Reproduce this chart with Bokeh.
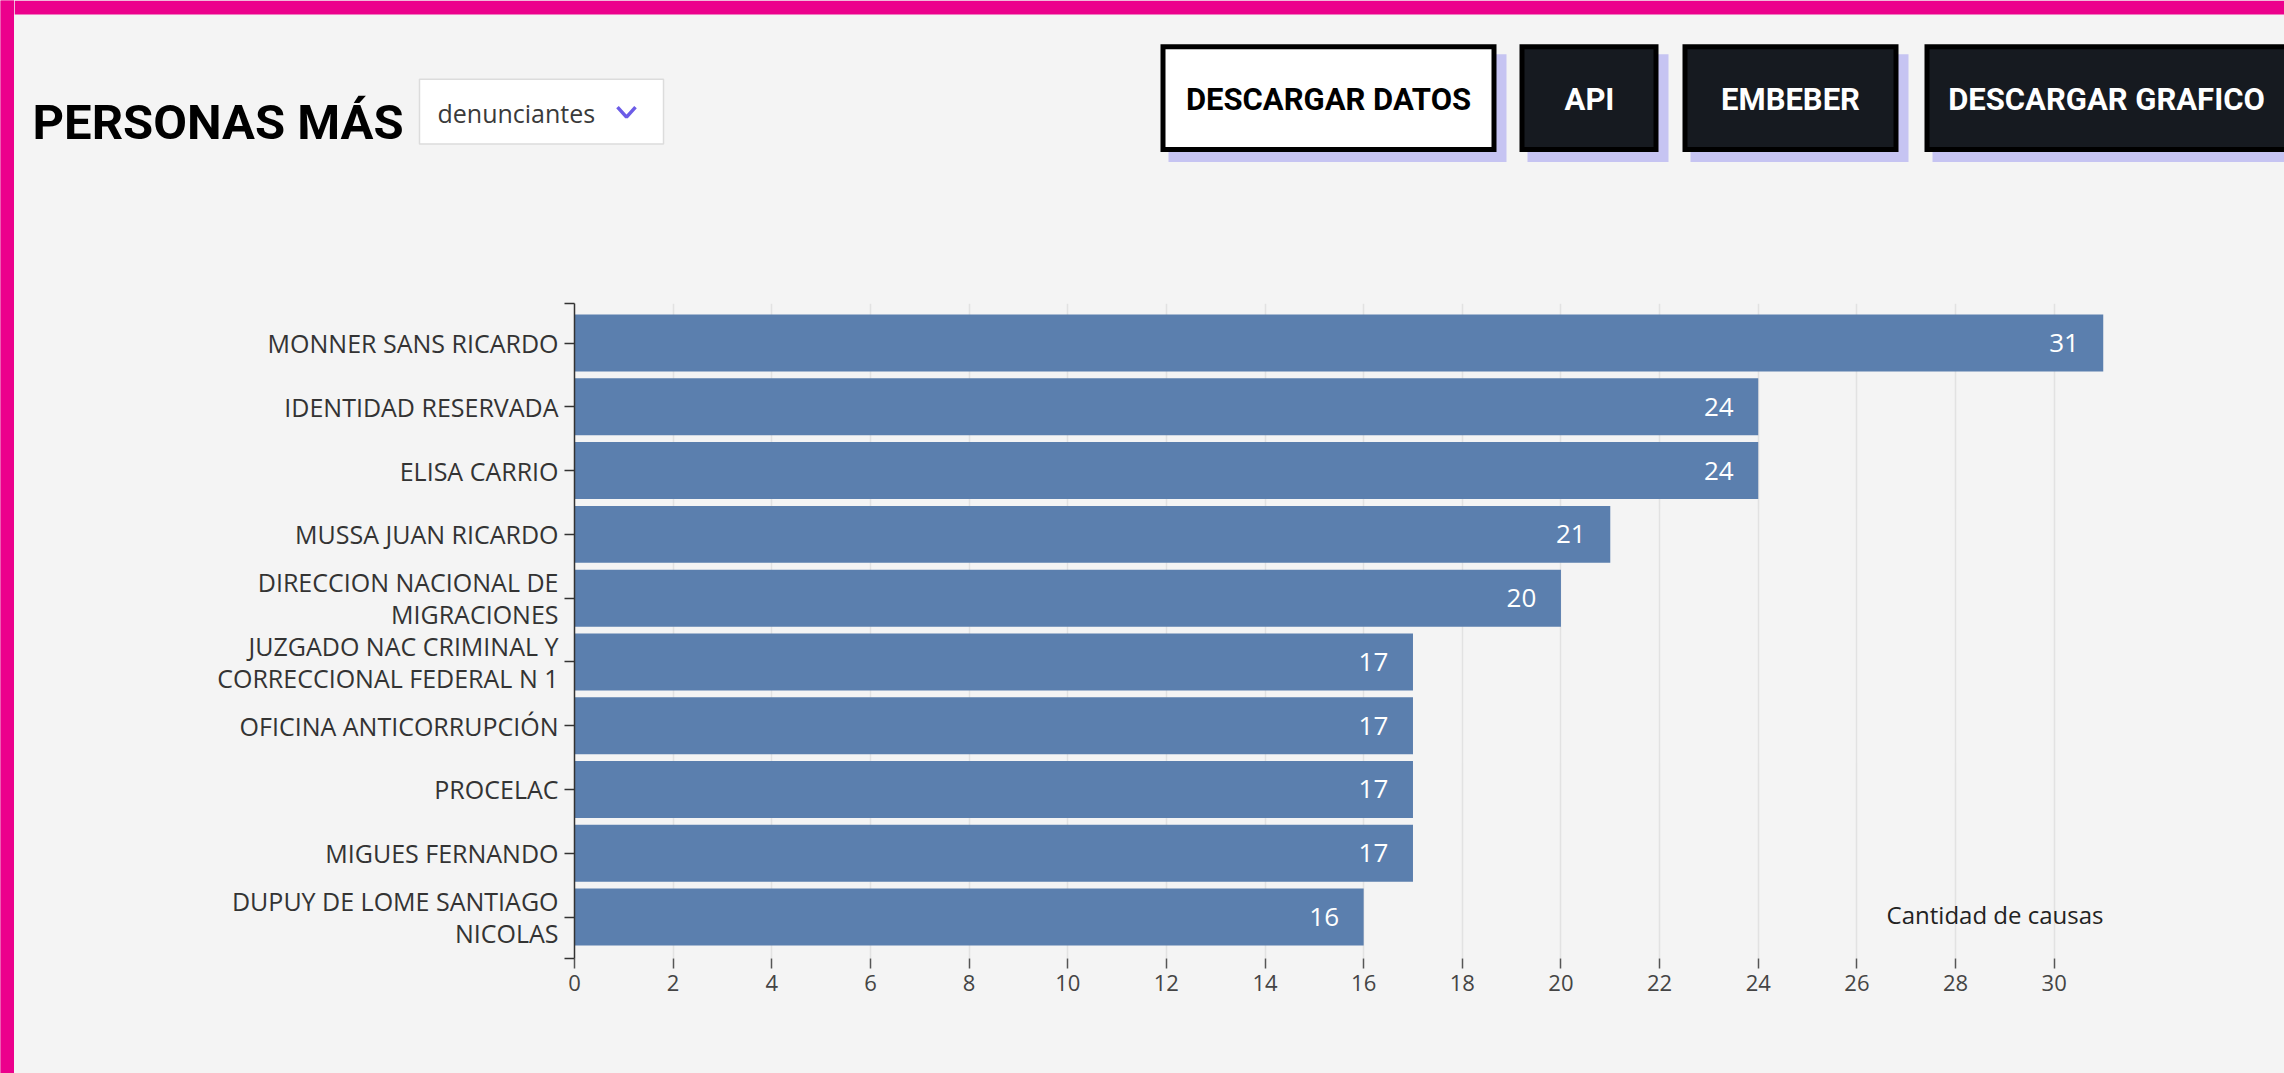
from bokeh.plotting import figure
from bokeh.models import Range1d, FixedTicker, ColumnDataSource, Label
from bokeh.layouts import row, column
from bokeh.embed import file_html
from bokeh.resources import INLINE
from bokeh.core.properties import value

# ---------------- data ----------------
names = [
    "MONNER SANS RICARDO",
    "IDENTIDAD RESERVADA",
    "ELISA CARRIO",
    "MUSSA JUAN RICARDO",
    "DIRECCION NACIONAL DE\nMIGRACIONES",
    "JUZGADO NAC CRIMINAL Y\nCORRECCIONAL FEDERAL N 1",
    "OFICINA ANTICORRUPCIÓN",
    "PROCELAC",
    "MIGUES FERNANDO",
    "DUPUY DE LOME SANTIAGO\nNICOLAS",
]
causas = [31, 24, 24, 21, 20, 17, 17, 17, 17, 16]
x_ticks = [0, 2, 4, 6, 8, 10, 12, 14, 16, 18, 20, 22, 24, 26, 28, 30]
title_text = "PERSONAS MÁS"
dropdown_text = "denunciantes"
button_labels = ["DESCARGAR DATOS", "API", "EMBEBER", "DESCARGAR GRAFICO"]
x_axis_title = "Cantidad de causas"

# ---------------- styles ----------------
PINK = "#ec008c"
BG = "#f4f4f4"
BAR = "#5b7fae"
DARK_BTN = "#161a20"
SHADOW = "#c6c4f2"
COND = value("Roboto")
SANS = value("Open Sans")

W_TOTAL = 2284
H_TOTAL = 1073
PINK_W = 14
HEAD_H = 268
MAIN_W = W_TOTAL - PINK_W
CHART_H = H_TOTAL - HEAD_H

# ---------------- left pink strip ----------------
strip = figure(width=PINK_W, height=H_TOTAL, output_backend="svg", toolbar_location=None,
               min_border=0, x_range=Range1d(0, 1), y_range=Range1d(0, 1))
strip.axis.visible = False
strip.grid.visible = False
strip.outline_line_color = None
strip.background_fill_color = PINK
strip.border_fill_color = PINK
strip.frame_align = False
strip.quad(left=[0], right=[1], bottom=[0], top=[1], fill_color=PINK, line_color=None)

# ---------------- header (page pixel coordinates, y downwards) ----------------
X0 = PINK_W
head = figure(width=MAIN_W, height=HEAD_H, output_backend="svg", toolbar_location=None,
              min_border=0, x_range=Range1d(X0, X0 + MAIN_W), y_range=Range1d(HEAD_H + 1, 0))
head.axis.visible = False
head.grid.visible = False
head.outline_line_color = None
head.background_fill_color = BG
head.border_fill_color = BG
head.frame_align = False

# pink top border
head.quad(left=[X0], right=[X0 + MAIN_W], top=[0], bottom=[14], fill_color=PINK, line_color=None)

# title
head.text(x=[32], y=[122], text=[title_text], text_font=COND, text_font_style="bold",
          text_font_size="49px", text_color="#000000", text_align="left", text_baseline="alphabetic")

# dropdown
head.quad(left=[419], right=[663], top=[79], bottom=[144], fill_color="#ffffff",
          line_color="#dcdcdc", line_width=1.5)
head.text(x=[437], y=[113], text=[dropdown_text], text_font=SANS, text_font_size="25px",
          text_color="#3a3a3a", text_align="left", text_baseline="middle")
head.line(x=[617, 626, 635], y=[107, 117, 107], line_color="#6c5ce7", line_width=3.5)

# buttons
btn_left = [1160, 1519, 1682, 1924]
btn_right = [1496, 1658, 1898, 2300]
btn_fill = ["#ffffff", DARK_BTN, DARK_BTN, DARK_BTN]
btn_text_col = ["#000000", "#ffffff", "#ffffff", "#ffffff"]
btn_text_x = [1328, 1589, 1790, 2106]
btn_top, btn_bot = 44, 152
head.quad(left=[l + 8 for l in btn_left], right=[r + 10 for r in btn_right],
          top=[btn_top + 10] * 4, bottom=[btn_bot + 10] * 4, fill_color=SHADOW, line_color=None)
head.quad(left=btn_left, right=btn_right, top=[btn_top] * 4, bottom=[btn_bot] * 4,
          fill_color="#000000", line_color=None)
head.quad(left=[l + 5 for l in btn_left], right=[r - 5 for r in btn_right],
          top=[btn_top + 5] * 4, bottom=[btn_bot - 5] * 4, fill_color=btn_fill, line_color=None)
head.text(x=btn_text_x, y=[99] * 4, text=button_labels, text_font=COND, text_font_style="bold",
          text_font_size="31px", text_color=btn_text_col, text_align="center", text_baseline="middle")

# ---------------- chart ----------------
n = len(names)
pos = [n - 1 - i for i in range(n)]
y_lo, y_hi = -0.65, 9.62
x_max = max(causas)

src = ColumnDataSource(dict(name=names, pos=pos, v=causas, lab=[str(c) for c in causas]))

p = figure(width=MAIN_W, height=CHART_H, output_backend="svg", toolbar_location=None,
           x_range=Range1d(0, x_max), y_range=Range1d(y_lo, y_hi),
           min_border_left=560, min_border_right=181, min_border_top=35, min_border_bottom=115)
p.outline_line_color = None
p.background_fill_color = BG
p.border_fill_color = BG
p.frame_align = False

p.hbar(y="pos", right="v", left=0, height=0.893, source=src, fill_color=BAR, line_color=None)
p.text(x="v", y="pos", text="lab", source=src, x_offset=-39.5, text_align="center",
       text_baseline="middle", text_color="#ffffff", text_font=SANS, text_font_size="26px")

p.add_layout(Label(x=x_max, y=0, y_offset=3, text=x_axis_title, text_align="right",
                   text_baseline="middle", text_font="Open Sans", text_font_size="24px",
                   text_color="#222222"))

# grid
p.ygrid.visible = False
p.xgrid.ticker = FixedTicker(ticks=x_ticks)
p.xgrid.grid_line_color = "#e2e2e2"
p.xgrid.grid_line_width = 1.5

# x axis
xa = p.xaxis[0]
xa.ticker = FixedTicker(ticks=x_ticks)
xa.axis_line_color = None
xa.major_tick_out = 10
xa.major_tick_in = 0
xa.major_tick_line_color = "#555555"
xa.major_tick_line_width = 1.5
xa.minor_tick_line_color = None
xa.major_label_standoff = 6
xa.major_label_text_font = "Open Sans"
xa.major_label_text_font_size = "22px"
xa.major_label_text_color = "#444444"

# y axis
ya = p.yaxis[0]
ya.ticker = FixedTicker(ticks=[y_lo] + pos + [y_hi])
overrides = {y_lo: "", y_hi: ""}
for nm, ps in zip(names, pos):
    overrides[ps] = nm
ya.major_label_overrides = overrides
ya.axis_line_color = "#333333"
ya.axis_line_width = 1.5
ya.major_tick_out = 10
ya.major_tick_in = 0
ya.major_tick_line_color = "#333333"
ya.major_tick_line_width = 1.5
ya.minor_tick_line_color = None
ya.major_label_standoff = 6
ya.major_label_text_font = "Open Sans"
ya.major_label_text_font_size = "25px"
ya.major_label_text_line_height = 0.93
ya.major_label_text_color = "#333333"

inner = column(head, p, spacing=0, styles={"background-color": BG})
layout = row(strip, inner, spacing=0, styles={"background-color": BG})

open("out.html", "w").write(file_html(layout, INLINE))
